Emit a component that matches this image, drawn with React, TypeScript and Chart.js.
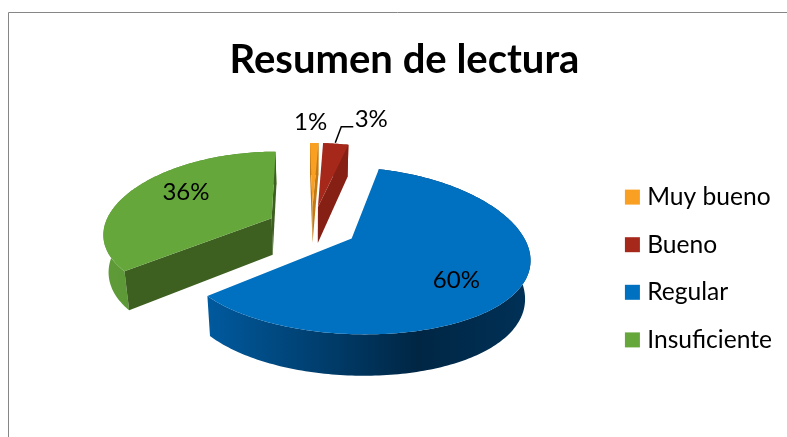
import React, { useEffect, useRef } from "react";
import { Chart, registerables, ArcElement, PieController } from "chart.js";

const TITLE = "Resumen de lectura";
const categories = ["Muy bueno", "Bueno", "Regular", "Insuficiente"];
const values = [1, 3, 60, 36];
const topColors = ["#F9A023", "#A5281B", "#0070C0", "#65A73B"];
const faceColors = ["#C47A14", "#862014", "#003A66", "#3D5F20"];
const wallStops: string[][] = [
  ["#C47A14", "#C47A14"],
  ["#862014", "#862014"],
  ["#005A9E", "#002644", "#003157"],
  ["#5F9C38", "#4D8229"],
];
const labelFractions = [1.24, 1.24, 0.62, 0.62];
const labelNudges = [[-4, -8], [32, -12], [4, 13], [1, -7]];

const FONT = "Lato";
const VIEW = { cx: 312, cy: 227, vx: 296, kx: 1.05, ky: 0.49, perspX: 0.0012, persp: 0.0009, depth: 37, depthSlope: 0.024, inward: 0.975 };

function project(dx: number, dy: number) {
  const v = -dy;
  const d = 1 + VIEW.persp * v;
  const dX = 1 + VIEW.perspX * v;
  const X = VIEW.cx + VIEW.kx * dx;
  return { x: VIEW.vx + (X - VIEW.vx) / dX, y: VIEW.cy + (VIEW.ky * dy) / d };
}
function drop(dx: number, dy: number) {
  const p = project(dx, dy);
  return {
    x: VIEW.cx + (p.x - VIEW.cx) * VIEW.inward,
    y: p.y + VIEW.depth + VIEW.depthSlope * dy,
  };
}
function poly(ctx: CanvasRenderingContext2D, pts: { x: number; y: number }[], fill: any) {
  ctx.beginPath();
  pts.forEach((p, i) => (i ? ctx.lineTo(p.x, p.y) : ctx.moveTo(p.x, p.y)));
  ctx.closePath();
  ctx.fillStyle = fill;
  ctx.fill();
}

class Arc3D extends ArcElement {
  static id = "arc3d";
  draw(ctx: CanvasRenderingContext2D) {
    const self: any = this;
    const { startAngle, endAngle, outerRadius, options } = self;
    const idx = topColors.indexOf(options.backgroundColor);
    const mid = (startAngle + endAngle) / 2;
    const off = options.offset || 0;
    const ax = off * Math.cos(mid);
    const ay = off * Math.sin(mid);
    const n = Math.max(6, Math.ceil(((endAngle - startAngle) * outerRadius) / 3));
    const disc: number[][] = [];
    for (let i = 0; i <= n; i++) {
      const t = startAngle + ((endAngle - startAngle) * i) / n;
      disc.push([ax + outerRadius * Math.cos(t), ay + outerRadius * Math.sin(t)]);
    }
    const top = disc.map(([a, b]) => project(a, b));
    const bottom = disc.map(([a, b]) => drop(a, b));
    const xs = top.map((p) => p.x);
    const grad = ctx.createLinearGradient(Math.min(...xs), 0, Math.max(...xs), 0);
    const stops = wallStops[idx];
    stops.forEach((c, i) => {
      const pos = stops.length === 3 ? [0, 0.65, 1][i] : i / (stops.length - 1);
      grad.addColorStop(pos, c);
    });
    ctx.save();
    poly(ctx, [...top, ...bottom.slice().reverse()], grad);
    const apexT = project(ax, ay);
    const apexB = drop(ax, ay);
    // a cut face shows only when its outward normal points towards the viewer
    if (Math.sin(endAngle + Math.PI / 2) > -1e-6) {
      poly(ctx, [apexT, top[n], bottom[n], apexB], faceColors[idx]);
    }
    if (Math.sin(startAngle - Math.PI / 2) > -1e-6) {
      poly(ctx, [apexT, top[0], bottom[0], apexB], faceColors[idx]);
    }
    poly(ctx, [apexT, ...top], options.backgroundColor);
    ctx.restore();
  }
}

class Pie3D extends PieController {
  static id = "pie3d";
  static defaults = { ...(PieController as any).defaults, dataElementType: "arc3d" };
}

const framePlugin = {
  id: "frame",
  beforeDraw(chart: any) {
    const { ctx, width, height } = chart;
    ctx.save();
    ctx.strokeStyle = "#868686";
    ctx.lineWidth = 1;
    ctx.beginPath();
    ctx.moveTo(8.5, height);
    ctx.lineTo(8.5, 12.5);
    ctx.lineTo(width, 12.5);
    ctx.stroke();
    ctx.restore();
  },
};

const labelPlugin = {
  id: "sliceLabels",
  afterDatasetsDraw(chart: any) {
    const { ctx } = chart;
    const meta = chart.getDatasetMeta(0);
    const total = values.reduce((a, b) => a + b, 0);
    ctx.save();
    ctx.font = `24px ${FONT}`;
    ctx.fillStyle = "#000";
    ctx.textAlign = "center";
    ctx.textBaseline = "middle";
    meta.data.forEach((el: any, i: number) => {
      const mid = (el.startAngle + el.endAngle) / 2;
      const r = el.options.offset + el.outerRadius * labelFractions[i];
      const p = project(r * Math.cos(mid), r * Math.sin(mid));
      const x = p.x + labelNudges[i][0];
      const y = p.y + labelNudges[i][1];
      ctx.fillText(`${Math.round((values[i] / total) * 100)}%`, x, y);
      if (categories[i] === "Bueno") {
        ctx.strokeStyle = "#000";
        ctx.lineWidth = 1.5;
        ctx.beginPath();
        ctx.moveTo(x - 36, y + 24);
        ctx.lineTo(x - 30, y + 8);
        ctx.lineTo(x - 18, y + 8);
        ctx.stroke();
      }
    });
    ctx.restore();
  },
};

Chart.register(...registerables, Arc3D, Pie3D);

export default function App() {
  const ref = useRef<HTMLCanvasElement>(null);
  useEffect(() => {
    const chart = new Chart(ref.current!, {
      type: "pie3d" as any,
      data: {
        labels: categories,
        datasets: [
          {
            data: values,
            backgroundColor: topColors,
            borderWidth: 0,
            offset: 43,
          } as any,
        ],
      },
      options: {
        responsive: false,
        animation: false,
        radius: 160,
        layout: { padding: { left: 27, right: 5, top: 0, bottom: 0 } },
        plugins: {
          tooltip: { enabled: false },
          title: {
            display: true,
            text: TITLE,
            color: "#000",
            font: { family: FONT, size: 40, weight: "bold" },
            padding: { top: 36, bottom: 16 },
          },
          legend: {
            position: "right",
            fullSize: false,
            labels: {
              usePointStyle: true,
              pointStyle: "rect",
              boxWidth: 5,
              boxHeight: 15,
              padding: 23,
              color: "#000",
              font: { family: FONT, size: 24.6 },
            },
          },
        },
      } as any,
      plugins: [framePlugin, labelPlugin],
    });
    return () => chart.destroy();
  }, []);
  return (
    <canvas
      ref={ref}
      width={787}
      height={437}
      style={{ position: "fixed", left: 0, top: 0, width: 787, height: 437, background: "#fff" }}
    />
  );
}
